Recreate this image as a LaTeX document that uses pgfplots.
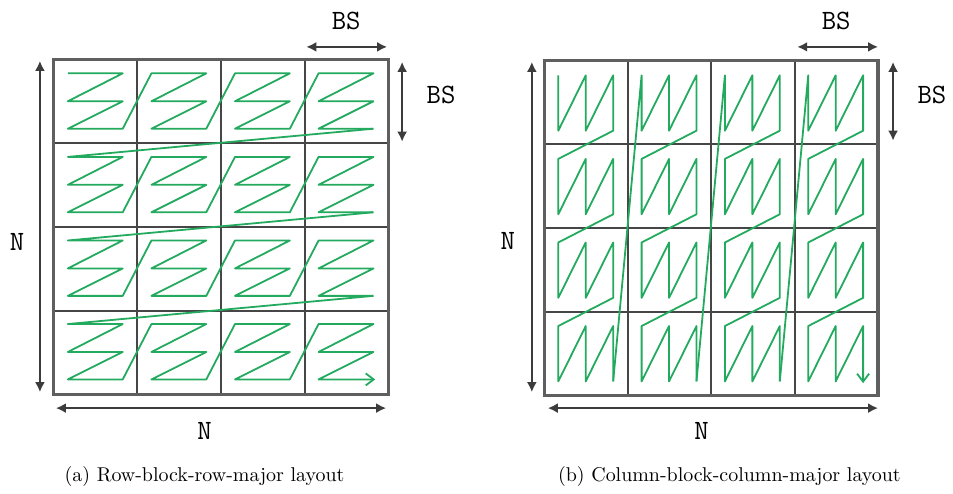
\documentclass[border=0pt]{standalone}
\usepackage{fontspec}
\usepackage{pgfplots}
\pgfplotsset{compat=1.18}
\usetikzlibrary{arrows.meta}
\definecolor{zg}{RGB}{35,170,95}
\definecolor{gridc}{RGB}{70,70,70}
\definecolor{borderc}{RGB}{95,95,95}
\definecolor{arrc}{RGB}{60,60,60}
\begin{document}
\begin{tikzpicture}[
  lab/.style={font=\fontsize{14}{16}\selectfont\ttfamily},
  arr/.style={arrc, line width=1.3pt, {Latex[length=5pt,width=5pt]}-{Latex[length=5pt,width=5pt]}},
  zz/.style={zg, line width=0.9pt, line join=round},
]
\begin{axis}[x=0.5pt, y=0.5pt, y dir=reverse,
  xmin=0, xmax=953, ymin=0, ymax=494,
  axis line style={draw=none}, ticks=none, clip=false,
  axis background/.style={fill=white},
  unbounded coords=jump,
]
% ---------------- left grid ----------------
\addplot[gridc, line width=1pt, mark=none] coordinates {
(137.75,60) (137.75,395) (nan,nan)
(221.5,60) (221.5,395) (nan,nan)
(305.25,60) (305.25,395) (nan,nan)
(54,143.75) (389,143.75) (nan,nan)
(54,227.5) (389,227.5) (nan,nan)
(54,311.25) (389,311.25)};
\addplot[borderc, line width=1.6pt, mark=none, line join=miter] coordinates {(54,60) (389,60) (389,395) (54,395) (54,60) (389,60)};
% row-block-row-major path
\addplot[zz, mark=none] coordinates {
(68,73.5) (123,73.5) (68,101.5) (123,101.5) (68,129) (123,129)
(151.75,73.5) (206.75,73.5) (151.75,101.5) (206.75,101.5) (151.75,129) (206.75,129)
(235.5,73.5) (290.5,73.5) (235.5,101.5) (290.5,101.5) (235.5,129) (290.5,129)
(319.25,73.5) (374.25,73.5) (319.25,101.5) (374.25,101.5) (319.25,129) (374.25,129)};
\addplot[zz, mark=none] coordinates {(374.25,129)
(68,157.25) (123,157.25) (68,185.25) (123,185.25) (68,212.75) (123,212.75)
(151.75,157.25) (206.75,157.25) (151.75,185.25) (206.75,185.25) (151.75,212.75) (206.75,212.75)
(235.5,157.25) (290.5,157.25) (235.5,185.25) (290.5,185.25) (235.5,212.75) (290.5,212.75)
(319.25,157.25) (374.25,157.25) (319.25,185.25) (374.25,185.25) (319.25,212.75) (374.25,212.75)};
\addplot[zz, mark=none] coordinates {(374.25,212.75)
(68,241) (123,241) (68,269) (123,269) (68,296.5) (123,296.5)
(151.75,241) (206.75,241) (151.75,269) (206.75,269) (151.75,296.5) (206.75,296.5)
(235.5,241) (290.5,241) (235.5,269) (290.5,269) (235.5,296.5) (290.5,296.5)
(319.25,241) (374.25,241) (319.25,269) (374.25,269) (319.25,296.5) (374.25,296.5)};
\addplot[zz, mark=none, -{Straight Barb[length=4pt,width=6pt]}] coordinates {(374.25,296.5)
(68,324.75) (123,324.75) (68,352.75) (123,352.75) (68,380.25) (123,380.25)
(151.75,324.75) (206.75,324.75) (151.75,352.75) (206.75,352.75) (151.75,380.25) (206.75,380.25)
(235.5,324.75) (290.5,324.75) (235.5,352.75) (290.5,352.75) (235.5,380.25) (290.5,380.25)
(319.25,324.75) (374.25,324.75) (319.25,352.75) (374.25,352.75) (319.25,380.25) (376,380.25)};
% arrows left
\addplot[arr, mark=none] coordinates {(40,61) (40,393)};
\addplot[arr, mark=none] coordinates {(56,409) (387,409)};
\addplot[arr, mark=none] coordinates {(307,47) (388,47)};
\addplot[arr, mark=none] coordinates {(403,62) (403,142)};
\node[lab] at (17,242) {N};
\node[lab] at (205,432) {N};
\node[lab] at (347,21) {BS};
\node[lab] at (442,95) {BS};
\node at (205,478) {(a) Row-block-row-major layout};
% ---------------- right grid ----------------
\addplot[gridc, line width=1pt, mark=none] coordinates {
(629.5,61) (629.5,396) (nan,nan)
(713,61) (713,396) (nan,nan)
(796.5,61) (796.5,396) (nan,nan)
(546,144.75) (880,144.75) (nan,nan)
(546,228.5) (880,228.5) (nan,nan)
(546,312.25) (880,312.25)};
\addplot[borderc, line width=1.6pt, mark=none, line join=miter] coordinates {(546,61) (880,61) (880,396) (546,396) (546,61) (880,61)};
% column-block-column-major path
\addplot[zz, mark=none] coordinates {
(559.5,75.5) (559.5,131) (587,75.5) (587,131) (614.5,75.5) (614.5,131)
(559.5,159.25) (559.5,214.75) (587,159.25) (587,214.75) (614.5,159.25) (614.5,214.75)
(559.5,243) (559.5,298.5) (587,243) (587,298.5) (614.5,243) (614.5,298.5)
(559.5,326.75) (559.5,382.25) (587,326.75) (587,382.25) (614.5,326.75) (614.5,382.25)};
\addplot[zz, mark=none] coordinates {(614.5,382.25)
(643,75.5) (643,131) (670.5,75.5) (670.5,131) (698,75.5) (698,131)
(643,159.25) (643,214.75) (670.5,159.25) (670.5,214.75) (698,159.25) (698,214.75)
(643,243) (643,298.5) (670.5,243) (670.5,298.5) (698,243) (698,298.5)
(643,326.75) (643,382.25) (670.5,326.75) (670.5,382.25) (698,326.75) (698,382.25)};
\addplot[zz, mark=none] coordinates {(698,382.25)
(726.5,75.5) (726.5,131) (754,75.5) (754,131) (781.5,75.5) (781.5,131)
(726.5,159.25) (726.5,214.75) (754,159.25) (754,214.75) (781.5,159.25) (781.5,214.75)
(726.5,243) (726.5,298.5) (754,243) (754,298.5) (781.5,243) (781.5,298.5)
(726.5,326.75) (726.5,382.25) (754,326.75) (754,382.25) (781.5,326.75) (781.5,382.25)};
\addplot[zz, mark=none, -{Straight Barb[length=4pt,width=6pt]}] coordinates {(781.5,382.25)
(810,75.5) (810,131) (837.5,75.5) (837.5,131) (865,75.5) (865,131)
(810,159.25) (810,214.75) (837.5,159.25) (837.5,214.75) (865,159.25) (865,214.75)
(810,243) (810,298.5) (837.5,243) (837.5,298.5) (865,243) (865,298.5)
(810,326.75) (810,382.25) (837.5,326.75) (837.5,382.25) (865,326.75) (865,384)};
% arrows right
\addplot[arr, mark=none] coordinates {(533,62) (533,393)};
\addplot[arr, mark=none] coordinates {(549,409) (880,409)};
\addplot[arr, mark=none] coordinates {(799,47) (880,47)};
\addplot[arr, mark=none] coordinates {(895,62) (895,141)};
\node[lab] at (509,241) {N};
\node[lab] at (703,432) {N};
\node[lab] at (838,21) {BS};
\node[lab] at (934,95) {BS};
\node at (731,478) {(b) Column-block-column-major layout};
\end{axis}
\end{tikzpicture}
\end{document}
